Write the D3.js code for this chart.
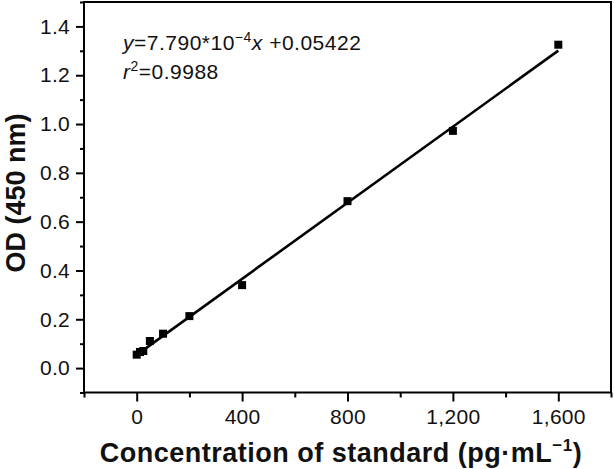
<!DOCTYPE html>
<html><head><meta charset="utf-8">
<script src="https://cdn.jsdelivr.net/npm/d3@7"></script>
<style>body{margin:0;background:#fff}svg{display:block}text{font-family:"Liberation Sans",Arial,sans-serif}</style>
</head><body>
<svg id="c" width="614" height="469"></svg>
<script>
const concentrations = [0, 12.5, 25, 50, 100, 200, 400, 800, 1200, 1600];
const odValues = [0.055, 0.066, 0.070, 0.111, 0.141, 0.213, 0.340, 0.684, 0.972, 1.325];
const fitSlope = 7.790e-4;
const fitIntercept = 0.05422;
const xMajorTicks = [0, 400, 800, 1200, 1600];
const xMinorTicks = [-200, 200, 600, 1000, 1400, 1800];
const yMajorTicks = [0, 0.2, 0.4, 0.6, 0.8, 1.0, 1.2, 1.4];
const yMinorTicks = [-0.1, 0.1, 0.3, 0.5, 0.7, 0.9, 1.1, 1.3, 1.5];

const svg = d3.select("#c");
const L = 84, R = 611, T = 2, B = 392.5;
const x = d3.scaleLinear().domain([-200, 1800]).range([L, R]);
const y = d3.scaleLinear().domain([-0.1, 1.5]).range([B, T]);

// frame
svg.append("rect").attr("x", L).attr("y", T).attr("width", R - L).attr("height", B - T)
  .attr("fill", "none").attr("stroke", "#000").attr("stroke-width", 2);

const fmt = d3.format(",");
svg.append("g").attr("transform", `translate(0,${B})`)
  .call(d3.axisBottom(x).tickValues(xMajorTicks).tickSize(9).tickPadding(8).tickFormat(d => fmt(d)));
svg.append("g").attr("transform", `translate(0,${B})`)
  .call(d3.axisBottom(x).tickValues(xMinorTicks).tickSize(5).tickFormat(""));
svg.append("g").attr("transform", `translate(${L},0)`)
  .call(d3.axisLeft(y).tickValues(yMajorTicks).tickSize(8).tickPadding(6).tickFormat(d3.format(".1f")));
svg.append("g").attr("transform", `translate(${L},0)`)
  .call(d3.axisLeft(y).tickValues(yMinorTicks).tickSize(4).tickFormat(""));
svg.selectAll(".domain").remove();
svg.selectAll(".tick line").attr("stroke", "#000").attr("stroke-width", 2);
svg.selectAll(".tick text").attr("font-size", 21).attr("fill", "#111").attr("letter-spacing", 0.3)
  .style("font-family", "'Liberation Sans', Arial, sans-serif");

// fit line
const x0 = concentrations[0], x1 = concentrations[concentrations.length - 1];
svg.append("line")
  .attr("x1", x(x0)).attr("y1", y(fitSlope * x0 + fitIntercept))
  .attr("x2", x(x1)).attr("y2", y(fitSlope * x1 + fitIntercept))
  .attr("stroke", "#000").attr("stroke-width", 2.6);

// markers
const s = 8;
svg.selectAll("rect.pt").data(concentrations).enter().append("rect").attr("class", "pt")
  .attr("x", (d) => x(d) - s / 2).attr("y", (d, i) => y(odValues[i]) - s / 2)
  .attr("width", s).attr("height", s).attr("fill", "#000");

// annotation
const t1 = svg.append("text").attr("x", 123).attr("y", 50).attr("font-size", 21).attr("letter-spacing", 0.5).attr("fill", "#111");
t1.append("tspan").attr("font-style", "italic").text("y");
t1.append("tspan").text("=7.790*10");
t1.append("tspan").attr("font-size", 14).attr("dy", -8).text("\u2212" + "4");
t1.append("tspan").attr("font-style", "italic").attr("dy", 8).text("x");
t1.append("tspan").text(" +0.05422");
const t2 = svg.append("text").attr("x", 123).attr("y", 79).attr("font-size", 21).attr("letter-spacing", 0.5).attr("fill", "#111");
t2.append("tspan").attr("font-style", "italic").text("r");
t2.append("tspan").attr("font-size", 14).attr("dy", -8).text("2");
t2.append("tspan").attr("dy", 8).text("=0.9988");

// axis titles
const xl = svg.append("text").attr("x", 341).attr("y", 461.5).attr("text-anchor", "middle")
  .attr("font-size", 27).attr("font-weight", "bold").attr("letter-spacing", 0.5).attr("fill", "#111");
xl.append("tspan").text("Concentration of standard (pg\u00B7mL");
xl.append("tspan").attr("font-size", 17).attr("dy", -11).text("\u22121");
xl.append("tspan").attr("dy", 11).text(")");

svg.append("text").attr("transform", "translate(25,193) rotate(-90)").attr("text-anchor", "middle")
  .attr("font-size", 27).attr("font-weight", "bold").attr("fill", "#111").text("OD (450 nm)");
</script>
</body></html>
